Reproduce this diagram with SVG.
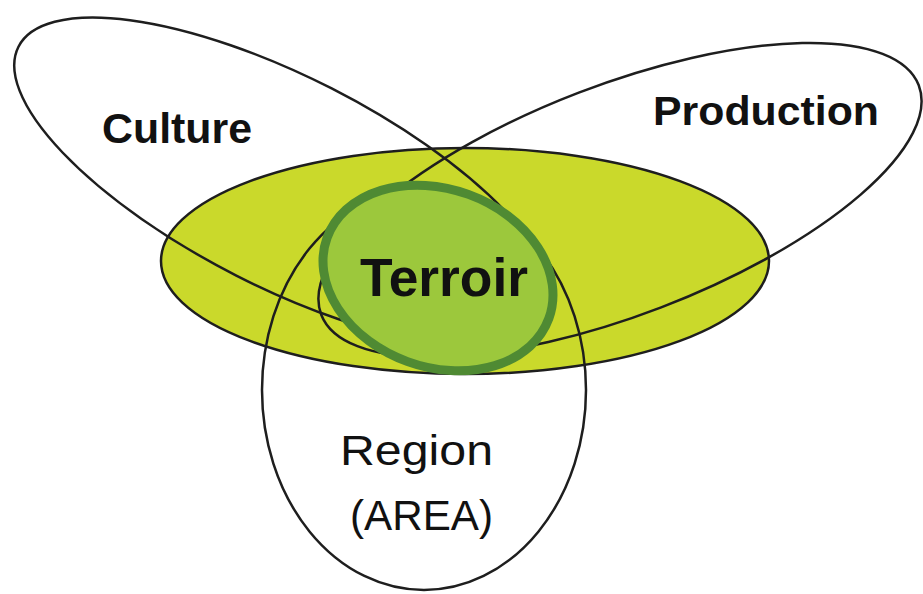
<svg xmlns="http://www.w3.org/2000/svg" width="923" height="594" viewBox="0 0 923 594">
<style>
.outline{fill:none;stroke:#1e1e1e;stroke-width:2.5}
.lbl{font-family:"Liberation Sans",Arial,sans-serif;fill:#111;font-size:42px}
.b{font-weight:bold}
</style>
<rect width="923" height="594" fill="#ffffff"/>
<g id="area-fill">
<ellipse cx="465" cy="261" rx="304" ry="113" fill="#cad92b"/>
</g>
<g id="connectors">
<ellipse id="culture-ring" class="outline" cx="284" cy="182" rx="298" ry="105" transform="rotate(27 284 182)"/>
<ellipse id="production-ring" class="outline" cx="620" cy="200" rx="320" ry="115" transform="rotate(-21 620 200)"/>
<ellipse id="region-ring" class="outline" cx="424" cy="390" rx="162" ry="200"/>
<ellipse id="area-ring" class="outline" cx="465" cy="261" rx="304" ry="113"/>
</g>
<g id="culture">
<text class="lbl b" x="102" y="143" textLength="150" lengthAdjust="spacingAndGlyphs">Culture</text>
</g>
<g id="production">
<text class="lbl b" x="653" y="125" font-size="40" style="font-size:40px" textLength="226" lengthAdjust="spacingAndGlyphs">Production</text>
</g>
<g id="terroir">
<ellipse cx="438" cy="278" rx="118" ry="89" transform="rotate(20 438 278)" fill="#9cc83c" stroke="#4f8a33" stroke-width="9"/>
<text class="lbl b" x="360" y="296" style="font-size:54px" textLength="168" lengthAdjust="spacingAndGlyphs">Terroir</text>
</g>
<g id="region">
<text class="lbl" x="340" y="465" textLength="153" lengthAdjust="spacingAndGlyphs">Region</text>
<text class="lbl" x="350" y="530" textLength="143" lengthAdjust="spacingAndGlyphs">(AREA)</text>
</g>
</svg>
